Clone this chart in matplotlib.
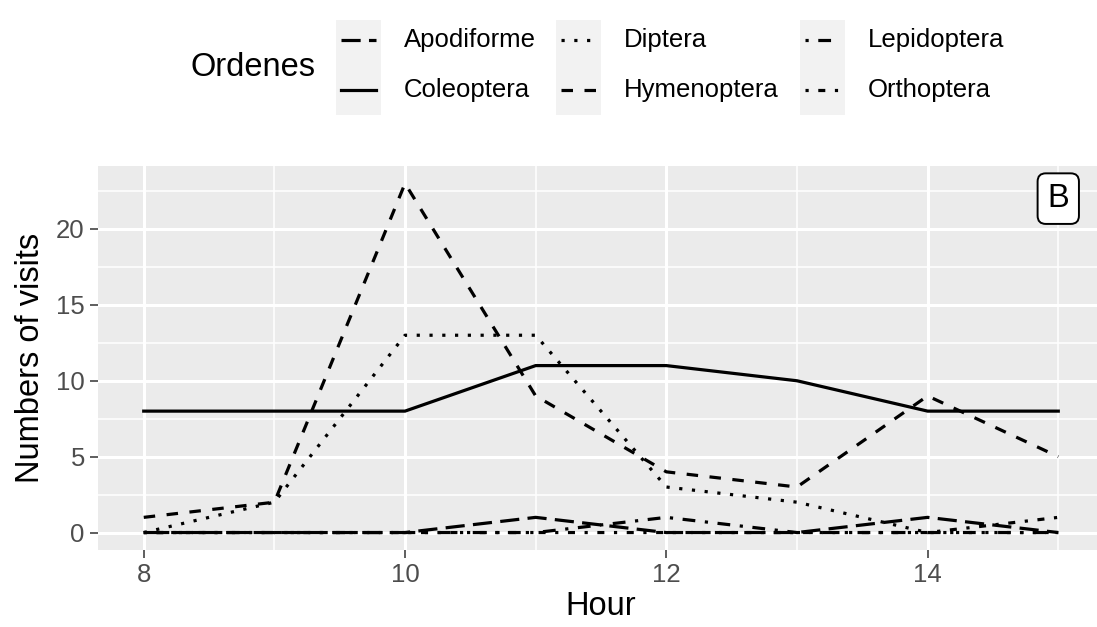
import matplotlib.pyplot as plt
from matplotlib.lines import Line2D
from matplotlib.patches import Rectangle
from matplotlib.ticker import MultipleLocator

plt.rcParams['font.family'] = ['Liberation Sans', 'DejaVu Sans']

hours = [8, 9, 10, 11, 12, 13, 14, 15]
ordenes = ['Apodiforme', 'Coleoptera', 'Diptera', 'Hymenoptera', 'Lepidoptera', 'Orthoptera']
apodiforme = [0, 0, 0, 1, 0, 0, 1, 0]
coleoptera = [8, 8, 8, 11, 11, 10, 8, 8]
diptera = [0, 2, 13, 13, 3, 2, 0, 0]
hymenoptera = [1, 2, 23, 9, 4, 3, 9, 5]
lepidoptera = [0, 0, 0, 0, 1, 0, 0, 0]
orthoptera = [0, 0, 0, 0, 0, 0, 0, 1]
series = [apodiforme, coleoptera, diptera, hymenoptera, lepidoptera, orthoptera]

# linetypes per orden
dashes = {
    'Apodiforme': (6, 2.6),
    'Coleoptera': None,
    'Diptera': (1, 3),
    'Hymenoptera': (3.6, 3.6),
    'Lepidoptera': (1, 3, 4, 3),
    'Orthoptera': (1, 3, 2.2, 3),
}

W, H = 1097, 627
fig = plt.figure(figsize=(W / 100, H / 100), dpi=100)
ax = fig.add_axes([98 / W, (H - 550) / H, (1104 - 98) / W, (550 - 166) / H])
ax.set_facecolor('#EBEBEB')
for s in ax.spines.values():
    s.set_visible(False)

lw = 2.3
for name, vals in zip(ordenes, series):
    line, = ax.plot(hours, vals, color='black', lw=lw, zorder=3)
    if dashes[name] is not None:
        line.set_dashes(dashes[name])

ax.set_xlim(8 - 0.35, 15 + 0.35)
ax.set_ylim(-1.15, 24.15)
ax.xaxis.set_major_locator(MultipleLocator(2))
ax.xaxis.set_minor_locator(MultipleLocator(1))
ax.yaxis.set_major_locator(MultipleLocator(5))
ax.yaxis.set_minor_locator(MultipleLocator(2.5))
ax.set_xticks([8, 10, 12, 14])
ax.grid(which='major', color='white', lw=2.2, zorder=1)
ax.grid(which='minor', color='white', lw=1.1, zorder=1)
ax.set_axisbelow(True)
ax.tick_params(which='major', length=5.5, width=1.1, color='#333333',
               labelsize=18.5, labelcolor='#4D4D4D', pad=4)
ax.tick_params(which='minor', length=0)

ax.set_xlabel('Hour', fontsize=23.5, color='black')
ax.set_ylabel('Numbers of visits', fontsize=23.5, color='black')
ax.xaxis.set_label_coords((601 - 98) / 1006, (550 - 591) / 384)
ax.yaxis.set_label_coords((46 - 98) / 1006, 0.5)

ax.text(15, 22, 'B', fontsize=23.5, ha='center', va='center', zorder=5,
        bbox=dict(boxstyle='round,pad=0.3,rounding_size=0.25', fc='white', ec='black', lw=1.4))

# legend drawn by hand, ggplot style
fig.text(190 / W, 1 - 68 / H, 'Ordenes', fontsize=23.5, ha='left', va='center')
key_x = [336, 556, 800]
text_x = [404, 624, 868]
row_y = [40, 90]
for c in range(3):
    fig.add_artist(Rectangle((key_x[c] / W, 1 - 115 / H), 45 / W, 95 / H,
                             transform=fig.transFigure, fc='#F2F2F2', ec='none'))
for i, name in enumerate(ordenes):
    c, r = i // 2, i % 2
    y = 1 - row_y[r] / H
    ln = Line2D([(key_x[c] + 5) / W, (key_x[c] + 40) / W], [y, y],
                transform=fig.transFigure, color='black', lw=lw)
    if dashes[name] is not None:
        ln.set_dashes(dashes[name])
    fig.add_artist(ln)
    fig.text(text_x[c] / W, y, name, fontsize=18.5, ha='left', va='center')

fig.savefig('out.png', dpi=100)
